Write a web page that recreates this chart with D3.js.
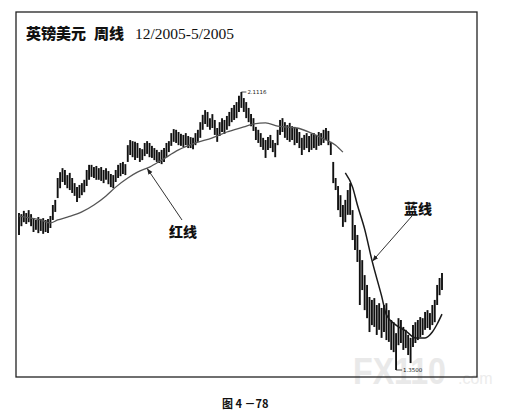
<!DOCTYPE html>
<html><head><meta charset="utf-8">
<script src="https://cdn.jsdelivr.net/npm/d3@7"></script>
<style>body{margin:0;background:#fff}</style>
</head><body>
<svg id="c" width="526" height="413"></svg>
<script>
// Weekly GBP/USD bars (high / low)
const highs = [
1.780,1.777,1.786,1.780,1.788,1.777,1.766,1.761,1.769,1.764,
1.766,1.761,1.764,1.772,1.802,1.816,1.876,1.892,1.903,1.898,
1.884,1.890,1.876,1.862,1.851,1.857,1.862,1.871,1.898,1.912,
1.912,1.906,1.909,1.903,1.906,1.898,1.903,1.895,1.887,1.884,
1.898,1.912,1.917,1.920,1.914,1.966,1.980,1.977,1.975,1.972,
1.958,1.955,1.972,1.977,1.972,1.964,1.958,1.953,1.947,1.953,
1.958,1.972,1.977,1.999,2.010,2.008,2.002,1.997,1.994,1.999,
1.991,1.988,1.986,1.999,2.008,2.029,2.049,2.062,2.057,2.040,
2.051,2.035,2.013,2.029,2.040,2.035,2.046,2.057,2.068,2.076,
2.084,2.101,2.1116,2.095,2.084,2.068,2.051,2.040,2.016,2.008,
1.999,1.986,1.980,1.988,1.994,1.980,1.972,2.008,2.035,2.040,
2.029,2.021,2.027,2.018,2.016,2.013,2.002,1.986,1.994,1.999,
1.991,1.997,1.999,1.994,2.002,1.999,2.008,2.013,2.005,1.975,
1.920,1.876,1.854,1.829,1.802,1.816,1.843,1.862,1.788,1.747,
1.720,1.679,1.651,1.610,1.583,1.550,1.542,1.547,1.528,1.533,
1.520,1.528,1.533,1.514,1.487,1.481,1.451,1.492,1.487,1.468,
1.460,1.446,1.438,1.473,1.481,1.487,1.495,1.492,1.509,1.514,
1.506,1.528,1.542,1.583,1.602,1.616];
const lows = [
1.720,1.744,1.755,1.750,1.755,1.744,1.728,1.734,1.725,1.731,
1.723,1.728,1.725,1.739,1.761,1.783,1.821,1.848,1.865,1.857,
1.848,1.843,1.835,1.827,1.810,1.821,1.829,1.837,1.854,1.871,
1.879,1.876,1.871,1.871,1.868,1.862,1.871,1.859,1.851,1.848,
1.865,1.876,1.881,1.887,1.884,1.920,1.939,1.933,1.925,1.931,
1.920,1.925,1.936,1.942,1.933,1.931,1.925,1.920,1.917,1.914,
1.920,1.933,1.947,1.964,1.975,1.972,1.966,1.964,1.961,1.966,
1.958,1.958,1.955,1.966,1.975,1.986,2.008,2.024,2.016,2.008,
2.013,1.994,1.975,1.991,2.002,1.997,2.008,2.018,2.029,2.035,
2.040,2.057,2.068,2.057,2.040,2.029,2.018,2.005,1.980,1.972,
1.961,1.953,1.931,1.953,1.958,1.947,1.933,1.966,1.994,2.002,
1.986,1.980,1.975,1.980,1.966,1.972,1.958,1.939,1.953,1.958,
1.947,1.953,1.958,1.953,1.964,1.966,1.972,1.980,1.966,1.939,
1.862,1.843,1.788,1.769,1.742,1.755,1.775,1.775,1.706,1.679,
1.646,1.528,1.569,1.514,1.492,1.454,1.473,1.468,1.446,1.460,
1.438,1.454,1.432,1.427,1.405,1.399,1.350,1.418,1.424,1.405,
1.410,1.391,1.369,1.413,1.424,1.432,1.440,1.446,1.460,1.465,
1.460,1.473,1.481,1.528,1.555,1.569];

// "红线" – long moving average (bar index, price)
const redIdx = [0,5,9,13,16,20,26,31,36,40,45,49,54,59,66,73,80,86,93,97,102,107,115,121,127,131,134];
const redVal = [1.772,1.766,1.761,1.753,1.761,1.769,1.783,1.802,1.827,1.851,1.876,1.892,1.906,1.925,1.953,1.972,1.986,2.002,2.016,2.024,2.027,2.018,2.013,1.999,1.980,1.966,1.947];
// "蓝线" – shorter moving average
const blueIdx = [135,138,140,143,146,150,152,156,160,164,168,171,173,175];
const blueVal = [1.890,1.851,1.802,1.736,1.651,1.553,1.501,1.473,1.457,1.438,1.438,1.454,1.476,1.503];

const titleA = "英镑美元", titleB = "周线", titleC = "12/2005-5/2005";
const redLabel = "红线", blueLabel = "蓝线";
const peakText = "2.1116", lowText = "1.3500";
const caption = "图 4 －78";

const svg = d3.select("#c");
const x = d3.scaleLinear().domain([0, highs.length - 1]).range([19, 442]);
const y = d3.scaleLinear().domain([1.35, 2.1116]).range([370, 92]);

// watermark (one text element, narrow font)
const wm = svg.append("text").attr("x", 353).attr("y", 384).attr("font-family", "Liberation Sans Narrow, Liberation Sans");
wm.append("tspan").attr("font-weight", "bold").attr("font-size", 36)
  .attr("textLength", 93).attr("lengthAdjust", "spacingAndGlyphs").attr("fill", "#e9e9e9").text("FX110");
wm.append("tspan").attr("x", 458).attr("font-size", 16).attr("fill", "#ececec").text(".com");

// frame
svg.append("rect").attr("x", 16).attr("y", 12).attr("width", 461).attr("height", 365)
  .attr("fill", "none").attr("stroke", "#222").attr("stroke-width", 1.3);

// title
const t = svg.append("text").attr("x", 26).attr("y", 39).attr("fill", "#111");
t.append("tspan").attr("font-family", "Noto Sans CJK SC").attr("font-weight", 900).attr("font-size", 15).text(titleA);
t.append("tspan").attr("dx", 8).attr("font-family", "Noto Sans CJK SC").attr("font-weight", 900).attr("font-size", 15).text(titleB);
t.append("tspan").attr("dx", 11).attr("font-family", "Liberation Serif").attr("font-size", 15.5).text(titleC);

// bars
svg.append("g").selectAll("line").data(highs).join("line")
  .attr("x1", (d, i) => x(i)).attr("x2", (d, i) => x(i))
  .attr("y1", d => y(d)).attr("y2", (d, i) => y(lows[i]))
  .attr("stroke", "#111").attr("stroke-width", 1.9);

// moving average lines
const line = d3.line().x(d => x(d[0])).y(d => y(d[1])).curve(d3.curveMonotoneX);
svg.append("path").datum(redIdx.map((d, i) => [d, redVal[i]]))
  .attr("d", line).attr("fill", "none").attr("stroke", "#555").attr("stroke-width", 1.3);
svg.append("path").datum(blueIdx.map((d, i) => [d, blueVal[i]]))
  .attr("d", line).attr("fill", "none").attr("stroke", "#1a1a1a").attr("stroke-width", 1.5);

// peak / low labels
const iMax = d3.maxIndex(highs), iMin = d3.minIndex(lows);
svg.append("line").attr("x1", x(iMax)).attr("x2", x(iMax) + 5)
  .attr("y1", y(highs[iMax])).attr("y2", y(highs[iMax])).attr("stroke", "#222").attr("stroke-width", 0.8);
svg.append("text").attr("x", x(iMax) + 6).attr("y", y(highs[iMax]) + 2)
  .attr("font-family", "DejaVu Sans").attr("font-size", 5.5).attr("fill", "#222").text(peakText);
svg.append("line").attr("x1", x(iMin)).attr("x2", x(iMin) + 6)
  .attr("y1", y(lows[iMin])).attr("y2", y(lows[iMin])).attr("stroke", "#222").attr("stroke-width", 0.8);
svg.append("text").attr("x", x(iMin) + 7).attr("y", y(lows[iMin]) + 2)
  .attr("font-family", "DejaVu Sans").attr("font-size", 5.5).attr("fill", "#222").text(lowText);

// annotation arrows
const defs = svg.append("defs");
defs.append("marker").attr("id", "ah").attr("viewBox", "0 0 10 10").attr("refX", 10).attr("refY", 5)
  .attr("markerWidth", 6).attr("markerHeight", 6).attr("orient", "auto-start-reverse")
  .append("path").attr("d", "M0,1 L10,5 L0,9 Z").attr("fill", "#222");
function arrow(x1, y1, x2, y2) {
  svg.append("line").attr("x1", x1).attr("y1", y1).attr("x2", x2).attr("y2", y2)
    .attr("stroke", "#333").attr("stroke-width", 1).attr("marker-end", "url(#ah)");
}
arrow(182, 220, x(53), y(1.905) + 1);
arrow(412, 216, x(146) + 0.5, y(1.651) + 1);

svg.append("text").attr("x", 169).attr("y", 237)
  .attr("font-family", "Noto Sans CJK SC").attr("font-weight", 900).attr("font-size", 14)
  .attr("fill", "#111").text(redLabel);
svg.append("text").attr("x", 404).attr("y", 214)
  .attr("font-family", "Noto Sans CJK SC").attr("font-weight", 900).attr("font-size", 14)
  .attr("fill", "#111").text(blueLabel);

// caption
svg.append("text").attr("x", 222).attr("y", 408)
  .attr("font-family", "Noto Sans CJK SC").attr("font-weight", 700).attr("font-size", 11)
  .attr("fill", "#111").text(caption);
</script>
</body></html>
